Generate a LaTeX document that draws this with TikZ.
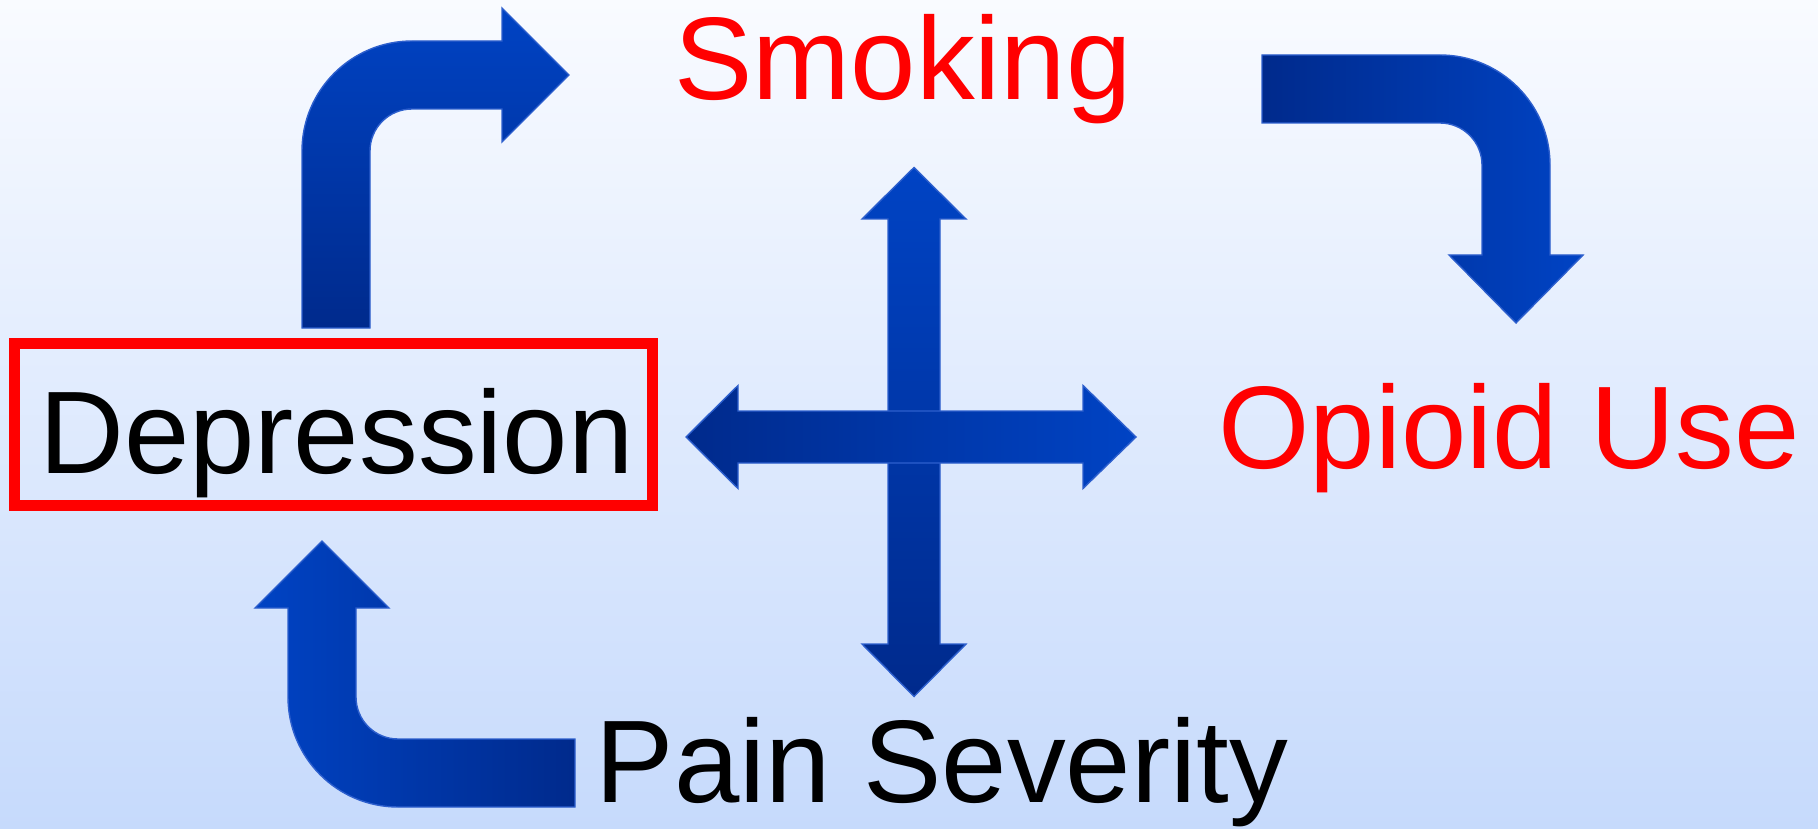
\documentclass[tikz,border=0pt]{standalone}
\usepackage{fontspec}
\setmainfont{Liberation Sans}
\definecolor{bgtop}{RGB}{249,251,255}
\definecolor{bgbottom}{RGB}{198,218,252}
\definecolor{arrowbright}{RGB}{0,67,196}
\definecolor{arrowdark}{RGB}{0,42,140}
\definecolor{arrowedge}{RGB}{45,95,205}
\definecolor{labelred}{RGB}{255,0,0}
\begin{document}
\begin{tikzpicture}[x=1pt,y=-1pt,
  bigtext/.style={inner sep=0pt, font=\fontsize{117.5pt}{130pt}\selectfont},
  blockarrow/.style={draw=arrowedge, line width=1.4pt, line join=miter},
]
% page and background gradient
\useasboundingbox (0,0) rectangle (1818,829);
\shade[top color=bgtop, bottom color=bgbottom] (0,0) rectangle (1818,829);

% labels
\node[bigtext, anchor=base, text=labelred] (smoking) at (903,99.5) {Smoking};
\node[bigtext, anchor=base, text=labelred] (opioid) at (1509,468) {Opioid Use};
\node[bigtext, anchor=base, text=black] (pain) at (942,802) {Pain Severity};
\node[bigtext, draw=labelred, line width=10.5pt, minimum width=638pt,
      minimum height=162pt, text height=97pt, text depth=0pt] (dep)
      at (333.5,424.5) {\hspace*{6pt}Depression};

% bent arrow: Depression up and round to Smoking
\path[blockarrow, top color=arrowbright, bottom color=arrowdark]
  (302,328) -- (302,151)
  .. controls (302,90.25) and (351.25,41) .. (412,41)
  -- (502,41) -- (502,8) -- (569,75) -- (502,142) -- (502,109) -- (412,109)
  .. controls (388.8,109) and (370,127.8) .. (370,151)
  -- (370,328) -- cycle;

% bent arrow: Smoking across and down to Opioid Use
\path[blockarrow, left color=arrowdark, right color=arrowbright]
  (1262,55) -- (1440,55)
  .. controls (1500.75,55) and (1550,104.25) .. (1550,165)
  -- (1550,255) -- (1583,255) -- (1516,323) -- (1449,255) -- (1482,255)
  -- (1482,165)
  .. controls (1482,141.8) and (1463.2,123) .. (1440,123)
  -- (1262,123) -- cycle;

% bent arrow: Pain Severity across and up to Depression
\path[blockarrow, left color=arrowbright, right color=arrowdark]
  (575,807) -- (398,807)
  .. controls (337.25,807) and (288,757.75) .. (288,697)
  -- (288,608) -- (255,608) -- (322,541) -- (389,608) -- (356,608)
  -- (356,697)
  .. controls (356,720.2) and (374.8,739) .. (398,739)
  -- (575,739) -- cycle;

% central cross of double arrows
\path[blockarrow, top color=arrowbright, bottom color=arrowdark]
  (888,219) -- (862,219) -- (914,167.5) -- (966,219) -- (940,219)
  -- (940,644) -- (966,644) -- (914,696.5) -- (862,644) -- (888,644) -- cycle;
\path[blockarrow, left color=arrowdark, right color=arrowbright]
  (738,411) -- (738,385.5) -- (686,437) -- (738,488.5) -- (738,463)
  -- (1083,463) -- (1083,488.5) -- (1136,437) -- (1083,385.5) -- (1083,411) -- cycle;
\end{tikzpicture}
\end{document}
